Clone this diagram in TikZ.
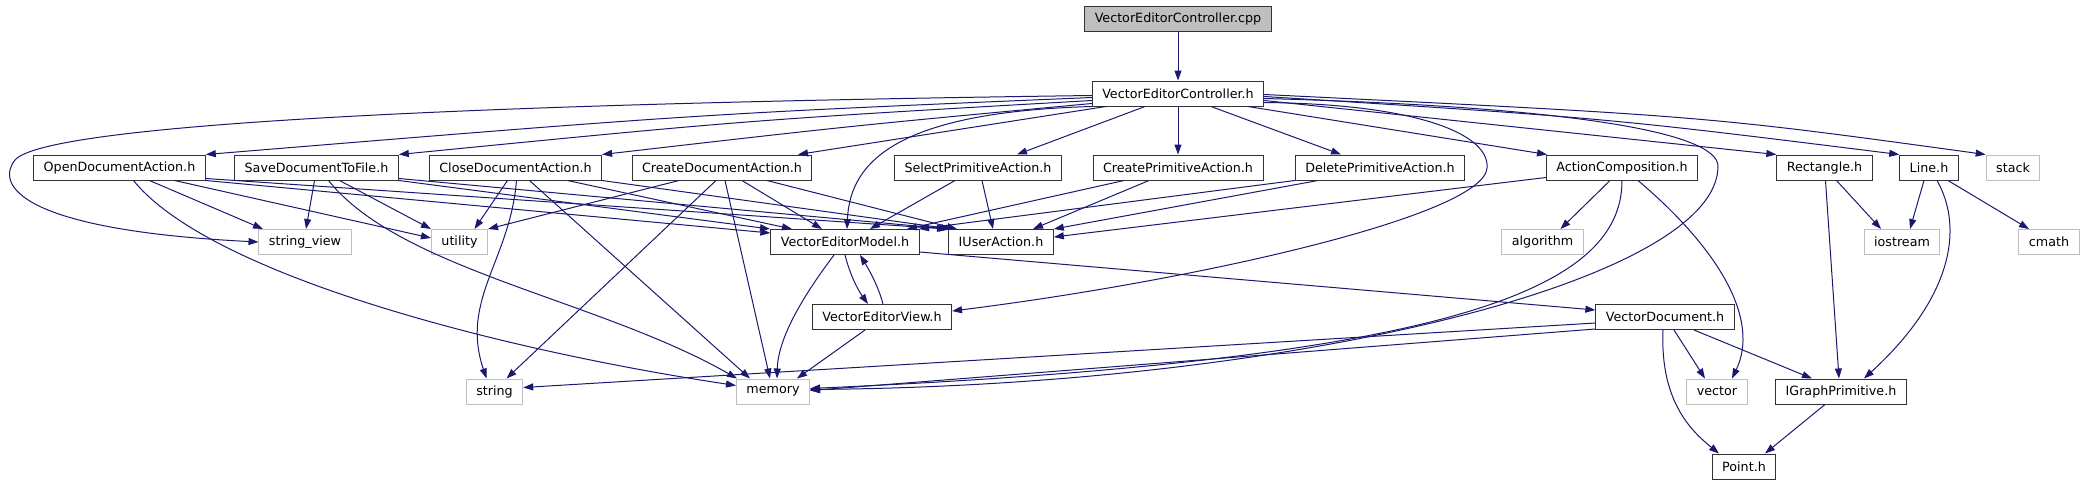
\documentclass[tikz,border=0pt]{standalone}
\usepackage{fontspec}
\setmainfont{DejaVu Sans}
\usetikzlibrary{arrows.meta}
\definecolor{edgeblue}{HTML}{191970}
\tikzset{
  hdr/.style={draw=black!80, fill=white, line width=1pt, minimum height=25pt,
    inner xsep=10pt, inner ysep=0pt, font=\fontsize{12.7}{15}\selectfont},
  sys/.style={hdr, draw=black!25},
  root/.style={hdr, fill=black!25},
  dep/.style={draw=edgeblue, line width=1pt, -{Triangle[length=10pt,width=7pt]}}
}

\begin{document}
\begin{tikzpicture}[x=1pt, y=-1pt]
      \useasboundingbox (0,0) rectangle (2086,485);
      % rows of the include graph
      \node[root] (cpp) at (1178,19) {VectorEditorController.cpp};
      \node[hdr] (vech) at (1178,93.5) {VectorEditorController.h};
      \node[hdr] (open) at (119.5,167.5) {OpenDocumentAction.h};
      \node[hdr] (save) at (316.5,167.5) {SaveDocumentToFile.h};
      \node[hdr] (close) at (515.5,167.5) {CloseDocumentAction.h};
      \node[hdr] (cdoc) at (722,167.5) {CreateDocumentAction.h};
      \node[hdr] (sel) at (978,167.5) {SelectPrimitiveAction.h};
      \node[hdr] (cprim) at (1178,167.5) {CreatePrimitiveAction.h};
      \node[hdr] (del) at (1380,167.5) {DeletePrimitiveAction.h};
      \node[hdr] (ac) at (1622,167.5) {ActionComposition.h};
      \node[hdr] (rect) at (1824.5,167.5) {Rectangle.h};
      \node[hdr] (line) at (1929,167.5) {Line.h};
      \node[sys] (stack) at (2013,167.5) {stack};
      \node[sys] (strv) at (305,242) {string\_view};
      \node[sys] (util) at (459.5,242) {utility};
      \node[hdr] (vem) at (845,242) {VectorEditorModel.h};
      \node[hdr] (iua) at (1001,242) {IUserAction.h};
      \node[sys] (algo) at (1542.5,242) {algorithm};
      \node[sys] (iost) at (1902,242) {iostream};
      \node[sys] (cmath) at (2049,242) {cmath};
      \node[hdr] (vev) at (882,317) {VectorEditorView.h};
      \node[hdr] (vdoc) at (1665,317) {VectorDocument.h};
      \node[sys] (string) at (494.5,391.5) {string};
      \node[sys] (memory) at (773,391.5) {memory};
      \node[sys] (vector) at (1717,391.5) {vector};
      \node[hdr] (igp) at (1841,391.5) {IGraphPrimitive.h};
      \node[hdr] (point) at (1744,466.5) {Point.h};

      \draw[dep] (cpp) -- (vech);

      % VectorEditorController.h
      \draw[dep] ([yshift=-2pt]vech.west) .. controls (450,104) and (45,125) .. (15,160) .. controls (-5,185) and (20,230) .. (strv.west);
      \draw[dep] ([yshift=-4pt]vech.west) .. controls (700,114) .. (open.north east);
      \draw[dep] ([yshift=-7pt]vech.west) .. controls (750,120) .. (save.north east);
      \draw[dep] ([yshift=-10pt]vech.west) .. controls (850,126) .. (close.north east);
      \draw[dep] ([xshift=-72pt]vech.south) -- ([xshift=76pt]cdoc.north);
      \draw[dep] (vech.south west) .. controls (900,112) and (850,160) .. ([xshift=2pt]vem.north);
      \draw[dep] ([xshift=-33pt]vech.south) -- ([xshift=39pt]sel.north);
      \draw[dep] (vech) -- (cprim);
      \draw[dep] ([xshift=33pt]vech.south) -- ([xshift=-39pt]del.north);
      \draw[dep] ([xshift=70pt]vech.south) -- ([xshift=-75pt]ac.north);
      \draw[dep] ([yshift=-9pt]vech.east) .. controls (1420,104) and (1490,135) .. (1487,168) .. controls (1484,215) and (1200,280) .. ([yshift=6pt]vev.east);
      \draw[dep] ([yshift=-5pt]vech.east) .. controls (1550,106) and (1720,130) .. (1718,167) .. controls (1716,280) and (1300,385) .. ([yshift=2pt]memory.east);
      \draw[dep] ([yshift=-7pt]vech.east) -- (rect.north west);
      \draw[dep] ([yshift=-3pt]vech.east) .. controls (1606,118) .. (line.north west);
      \draw[dep] ([yshift=-1pt]vech.east) .. controls (1705,116) .. (stack.north west);

      % OpenDocumentAction.h
      \draw[dep] ([xshift=30pt]open.south) -- ([xshift=-42pt]strv.north);
      \draw[dep] ([xshift=55pt]open.south) -- ([yshift=4pt]util.west);
      \draw[dep] ([xshift=14pt]open.south) .. controls (210,275) and (500,350) .. ([yshift=6pt]memory.west);
      \draw[dep] (open.south east) -- ([yshift=9pt]vem.west);
      \draw[dep] ([yshift=2pt]open.south east) -- ([xshift=-54pt]iua.north);

      % SaveDocumentToFile.h
      \draw[dep] ([xshift=-2pt]save.south) -- ([xshift=1pt]strv.north);
      \draw[dep] ([xshift=12pt]save.south) .. controls (400,270) and (600,300) .. ([xshift=-36pt]memory.north);
      \draw[dep] ([xshift=23pt]save.south) -- (util.north west);
      \draw[dep] (save.south east) -- ([xshift=-75pt]vem.north);
      \draw[dep] ([yshift=2pt]save.south east) -- ([xshift=-52pt]iua.north);

      % CloseDocumentAction.h
      \draw[dep] ([xshift=-8pt]close.south) -- ([xshift=15pt]util.north);
      \draw[dep] ([xshift=1pt]close.south) .. controls (510,260) and (460,300) .. ([xshift=-8pt]string.north);
      \draw[dep] ([xshift=14pt]close.south) -- ([xshift=-23pt]memory.north);
      \draw[dep] ([xshift=52pt]close.south) -- ([xshift=-53pt]vem.north);
      \draw[dep] (close.south east) -- ([xshift=-50pt]iua.north);

      % CreateDocumentAction.h
      \draw[dep] ([xshift=-43pt]cdoc.south) -- (util.north east);
      \draw[dep] ([xshift=-6pt]cdoc.south) -- ([xshift=12pt]string.north);
      \draw[dep] ([xshift=3pt]cdoc.south) -- ([xshift=-3pt]memory.north);
      \draw[dep] ([xshift=20pt]cdoc.south) -- ([xshift=-23pt]vem.north);
      \draw[dep] ([xshift=45pt]cdoc.south) -- ([xshift=-44pt]iua.north);

      % the primitive actions
      \draw[dep] ([xshift=-23pt]sel.south) -- ([xshift=25pt]vem.north);
      \draw[dep] ([xshift=4pt]sel.south) -- ([xshift=-8pt]iua.north);
      \draw[dep] ([xshift=-54pt]cprim.south) -- ([xshift=62pt]vem.north);
      \draw[dep] ([xshift=-29pt]cprim.south) -- ([xshift=32pt]iua.north);
      \draw[dep] (del.south west) -- ([xshift=74pt]vem.north);
      \draw[dep] ([xshift=-62pt]del.south) -- (iua.north east);

      % ActionComposition.h
      \draw[dep] ([yshift=-10pt]ac.west) -- ([yshift=5pt]iua.east);
      \draw[dep] ([xshift=-12pt]ac.south) -- ([xshift=18pt]algo.north);
      \draw[dep] (ac.south) .. controls (1622,290) and (1450,360) .. ([yshift=3pt]memory.east);
      \draw[dep] ([xshift=16pt]ac.south) .. controls (1720,250) and (1760,320) .. ([xshift=15pt]vector.north);

      % Rectangle.h and Line.h
      \draw[dep] ([xshift=12pt]rect.south) -- ([xshift=-21pt]iost.north);
      \draw[dep] ([xshift=1pt]rect.south) -- ([xshift=-2pt]igp.north);
      \draw[dep] ([xshift=-5pt]line.south) -- ([xshift=8pt]iost.north);
      \draw[dep] ([xshift=19pt]line.south) -- ([xshift=-20pt]cmath.north);
      \draw[dep] ([xshift=8pt]line.south) .. controls (1965,230) and (1950,300) .. ([xshift=23pt]igp.north);

      % model and view
      \draw[dep] ([xshift=-11pt]vem.south) .. controls (800,300) and (778,340) .. ([xshift=4pt]memory.north);
      \draw[dep] (vem.south) .. controls (850,275) and (858,290) .. ([xshift=-14pt]vev.north);
      \draw[dep] ([yshift=-10pt]vem.east) -- ([yshift=7pt]vdoc.west);
      \draw[dep] ([xshift=1pt]vev.north) .. controls (878,285) and (868,268) .. ([xshift=15pt]vem.south);
      \draw[dep] ([xshift=-17pt]vev.south) -- ([xshift=24pt]memory.north);

      % VectorDocument.h
      \draw[dep] ([yshift=-6pt]vdoc.west) -- ([yshift=4pt]string.east);
      \draw[dep] ([yshift=-12pt]vdoc.west) -- ([yshift=1pt]memory.east);
      \draw[dep] ([xshift=9pt]vdoc.south) -- ([xshift=-12pt]vector.north);
      \draw[dep] ([xshift=29pt]vdoc.south) -- ([xshift=-29pt]igp.north);
      \draw[dep] ([xshift=-2pt]vdoc.south) .. controls (1660,400) and (1690,430) .. ([xshift=-25pt]point.north);

      \draw[dep] ([xshift=-16pt]igp.south) -- ([xshift=21pt]point.north);
\end{tikzpicture}
\end{document}
